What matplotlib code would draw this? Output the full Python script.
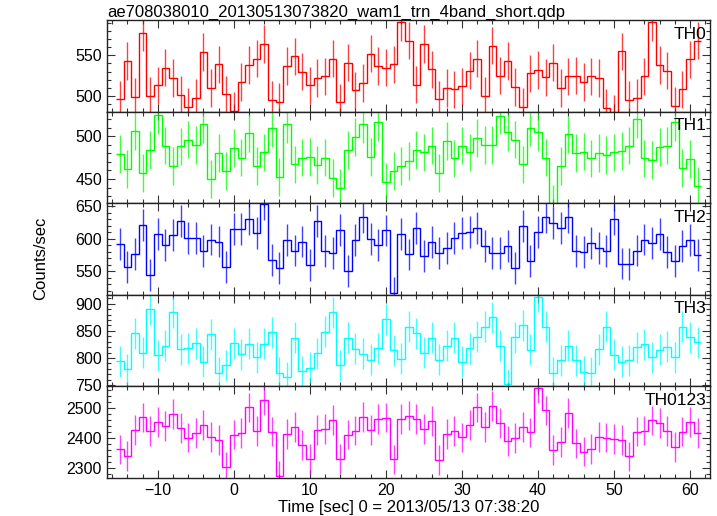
"""Light curves of the five WAM bands, stacked like the qdp output."""

import matplotlib
matplotlib.use("Agg")
import matplotlib.pyplot as plt
from matplotlib.ticker import MultipleLocator
import numpy as np


plt.rcParams["font.family"] = ["Liberation Sans", "DejaVu Sans"]

# 1 s bins, centres in seconds from 2013/05/13 07:38:20
time_bins = np.arange(-15, 62)

th0 = [496, 543, 499, 578, 500, 513, 535, 522, 501, 487, 498, 554, 510, 539, 502, 482,
       517, 538, 546, 564, 495, 493, 537, 549, 530, 513, 522, 524, 546, 492, 541, 507,
       516, 552, 537, 535, 539, 591, 568, 514, 564, 533, 496, 510, 508, 512, 531, 546,
       500, 562, 525, 543, 511, 487, 528, 532, 523, 541, 510, 524, 525, 517, 524, 522,
       485, 478, 555, 495, 498, 524, 591, 538, 531, 488, 508, 545, 568]
th1 = [479, 462, 506, 457, 484, 525, 489, 465, 488, 496, 490, 514, 450, 480, 459, 486,
       475, 504, 465, 481, 509, 452, 514, 467, 475, 476, 466, 475, 451, 440, 484, 499,
       514, 476, 516, 447, 459, 465, 471, 484, 481, 489, 457, 494, 474, 489, 481, 498,
       490, 490, 524, 505, 496, 467, 510, 505, 475, 421, 465, 502, 480, 482, 474, 480,
       478, 481, 483, 489, 520, 474, 472, 487, 489, 516, 463, 473, 442]
th2 = [592, 557, 577, 622, 545, 608, 590, 606, 628, 601, 602, 581, 599, 596, 557, 615,
       615, 631, 609, 653, 567, 555, 598, 582, 596, 560, 628, 581, 578, 614, 550, 598,
       633, 600, 590, 613, 517, 607, 576, 617, 574, 595, 578, 586, 601, 609, 611, 617,
       589, 578, 578, 589, 555, 620, 566, 611, 634, 624, 617, 634, 581, 580, 594, 586,
       581, 630, 562, 561, 582, 599, 594, 608, 580, 566, 589, 598, 575]
th3 = [794, 779, 846, 810, 890, 805, 823, 884, 816, 818, 827, 793, 844, 773, 787, 827,
       807, 826, 801, 826, 847, 773, 765, 837, 776, 782, 809, 848, 884, 787, 837, 817,
       808, 797, 818, 871, 814, 799, 858, 846, 810, 837, 797, 823, 837, 793, 818, 839,
       858, 875, 823, 752, 838, 860, 815, 913, 858, 773, 796, 823, 796, 775, 773, 816,
       858, 806, 793, 796, 820, 825, 801, 815, 821, 801, 858, 838, 829]
th0123 = [2363, 2342, 2428, 2469, 2423, 2454, 2441, 2481, 2433, 2402, 2418, 2444, 2405,
          2394, 2305, 2412, 2417, 2502, 2423, 2527, 2422, 2275, 2415, 2437, 2377, 2332,
          2427, 2431, 2461, 2332, 2412, 2425, 2471, 2428, 2464, 2468, 2330, 2463, 2475,
          2464, 2431, 2457, 2328, 2415, 2423, 2403, 2443, 2502, 2438, 2506, 2450, 2391,
          2400, 2437, 2419, 2566, 2492, 2361, 2388, 2484, 2383, 2356, 2364, 2405, 2402,
          2397, 2394, 2340, 2422, 2425, 2459, 2451, 2423, 2370, 2422, 2454, 2417]

band_names = ["TH0", "TH1", "TH2", "TH3", "TH0123"]
band_rates = [th0, th1, th2, th3, th0123]
band_errors = [23, 22, 24.5, 28.6, 49]   # 1 sigma, counts/sec
band_colors = ["#ff0000", "#00ff00", "#0000ff", "#00ffff", "#ff00ff"]
band_ylims = [(480.7, 593.4), (421.8, 528.6), (514, 655), (748, 916.5), (2269, 2572)]
band_major = [50, 50, 50, 50, 100]
band_minor = [10, 10, 10, 10, 20]


def main():
    fig, axes = plt.subplots(5, 1, sharex=True, figsize=(7.17, 5.16), dpi=100)
    fig.subplots_adjust(left=0.149, right=0.990, top=0.961, bottom=0.074, hspace=0)

    edges = np.append(time_bins - 0.5, time_bins[-1] + 0.5)

    for ax, name, rate, err, color, ylim, major, minor in zip(
            axes, band_names, band_rates, band_errors, band_colors,
            band_ylims, band_major, band_minor):
        rate = np.array(rate, dtype=float)
        ax.errorbar(time_bins, rate, yerr=err, fmt="none", ecolor=color,
                    elinewidth=1.0, capsize=0, alpha=0.75)
        # baseline=None keeps the outer edges from dropping to zero
        ax.stairs(rate, edges, baseline=None, color=color, lw=1.0)
        ax.set_ylim(*ylim)
        ax.set_xlim(-16.7, 62.6)
        ax.yaxis.set_major_locator(MultipleLocator(major))
        ax.yaxis.set_minor_locator(MultipleLocator(minor))
        ax.xaxis.set_major_locator(MultipleLocator(10))
        ax.xaxis.set_minor_locator(MultipleLocator(2))
        ax.tick_params(which="both", direction="in", top=True, right=True,
                       labelsize=11.5, width=0.8, colors="#333333", labelcolor="black")
        ax.tick_params(which="major", length=6)
        ax.tick_params(which="minor", length=3)
        for spine in ax.spines.values():
            spine.set_linewidth(1.0)
            spine.set_color("#222222")
        ax.text(0.995, 0.93, name, transform=ax.transAxes, ha="right", va="top",
                fontsize=12.5)

    axes[-1].tick_params(axis="x", pad=4)

    fig.text(0.149, 0.976, "ae708038010_20130513073820_wam1_trn_4band_short.qdp",
             ha="left", va="center", fontsize=12)
    fig.text(0.056, 0.50, "Counts/sec", rotation=90, ha="center", va="center",
             fontsize=12)
    fig.text(0.570, 0.016, "Time [sec] 0 = 2013/05/13 07:38:20", ha="center",
             va="center", fontsize=12)

    fig.savefig("out.png", dpi=100)
    plt.close(fig)


if __name__ == "__main__":
    main()
